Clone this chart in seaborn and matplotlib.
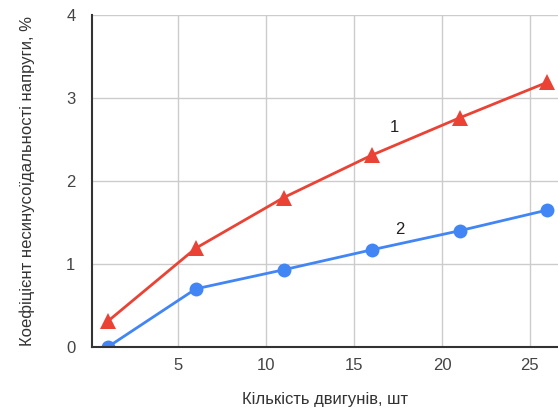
import matplotlib
matplotlib.use("Agg")
import matplotlib.pyplot as plt
import seaborn as sns

# Дані: кількість двигунів і коефіцієнт несинусоїдальності
dvyhuny = [1, 6, 11, 16, 21, 26]
kriva_1 = [0.31, 1.19, 1.80, 2.31, 2.76, 3.19]
kriva_2 = [0.00, 0.70, 0.93, 1.17, 1.40, 1.65]

sns.set_style("whitegrid")
plt.rcParams["font.family"] = ["Liberation Sans", "DejaVu Sans"]

fig = plt.figure(figsize=(5.58, 4.16), dpi=100)
ax = fig.add_axes([0.165, 0.166, 0.835, 0.798])

sns.lineplot(x=dvyhuny, y=kriva_1, ax=ax, color="#ea4335", marker="^",
             markersize=11, markeredgewidth=0, linewidth=2)
sns.lineplot(x=dvyhuny, y=kriva_2, ax=ax, color="#4285f4", marker="o",
             markersize=10, markeredgewidth=0, linewidth=2)

ax.text(17.3, 2.64, "1", fontsize=12, color="#222222", ha="center", va="center")
ax.text(17.6, 1.42, "2", fontsize=12, color="#222222", ha="center", va="center")

ax.set_xlim(0.1, 26.6)
ax.set_ylim(0, 4)
ax.set_xticks([5, 10, 15, 20, 25])
ax.set_yticks([0, 1, 2, 3, 4])
ax.grid(True, color="#cccccc", linewidth=1)
for s in ["top", "right"]:
    ax.spines[s].set_visible(False)
for s in ["left", "bottom"]:
    ax.spines[s].set_color("#333333")
    ax.spines[s].set_linewidth(1.5)
ax.tick_params(labelsize=12, colors="#444444", length=0, pad=8)
ax.tick_params(axis="y", pad=12)

ax.set_xlabel("Кількість двигунів, шт", fontsize=12, color="#333333", labelpad=14)
ax.set_ylabel("Коефіцієнт несинусоїдальності напруги, %", fontsize=12,
              color="#333333", labelpad=22)

fig.savefig("out.png", dpi=100)
